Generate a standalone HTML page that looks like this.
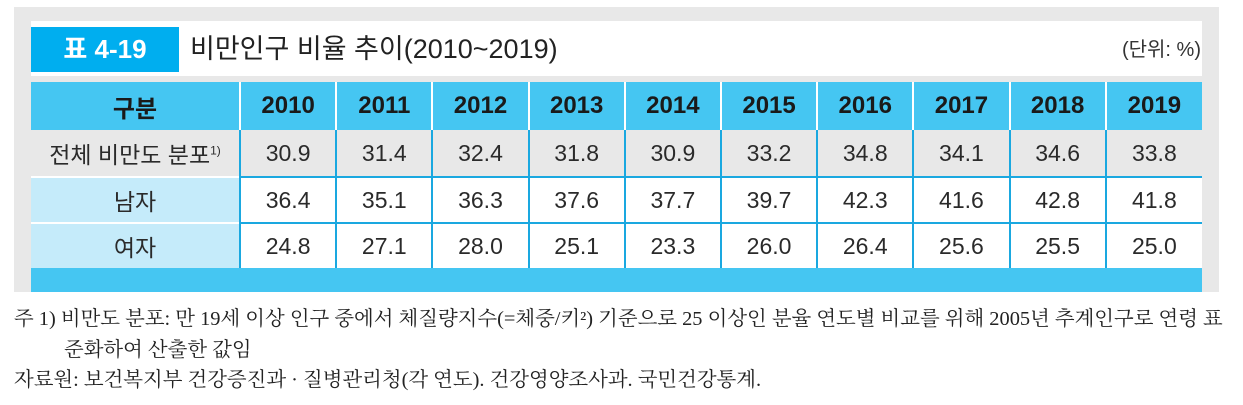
<!DOCTYPE html>
<html><head><meta charset="utf-8"><style>
body{margin:0;width:1243px;height:405px;background:#fff;position:relative;overflow:hidden;font-family:"Liberation Sans","Noto Sans CJK KR",sans-serif}
#outer{position:absolute;left:14px;top:7px;width:1205px;height:285px;background:#e8e8e8}
#inner{position:absolute;left:31px;top:21px;width:1171px;height:55px;background:#fff}
#tbox{position:absolute;left:31px;top:27px;width:148px;height:45px;background:#00aeef;color:#fff;font-size:26px;line-height:45px;text-align:center;font-weight:bold}
#title{position:absolute;left:190px;top:27px;height:45px;line-height:45px;font-size:27px;color:#222}
#unit{position:absolute;right:42px;top:27px;height:45px;line-height:47px;font-size:20px;color:#333}
table{position:absolute;left:31px;top:82px;border-collapse:collapse;table-layout:fixed;width:1171px}
td{text-align:center;padding:0;color:#2a2a2a;font-size:23px}
tr.h td{background:#45c6f2;height:48px;font-weight:bold;font-size:24px;color:#1a1a1a;border-left:2px solid #fff}
tr.r1 td{background:#e8e8e8;height:46px;border-left:2px solid #1aa8e0}
tr.r td{background:#fff;height:44px;border-left:2px solid #1aa8e0;border-top:2px solid #1aa8e0}
tr.r td.f{background:#c5ebfa;border-top:2px solid #fff}
td.f{border-left:none!important}
tr.foot td{background:#45c6f2;height:24px;border:none}
.note{position:absolute;left:14px;font-family:"Liberation Serif","Noto Serif CJK KR","Noto Serif CJK SC",serif;font-size:20px;color:#222;white-space:nowrap;transform-origin:0 0}
</style></head><body>
<div id="outer"></div>
<div id="inner"></div>
<div id="tbox">표 4-19</div>
<div id="title">비만인구 비율 추이(2010~2019)</div>
<div id="unit">(단위: %)</div>
<table>
<colgroup><col style="width:209px"><col span="10" style="width:96.2px"></colgroup>
<tr class="h"><td class="f">구분</td><td>2010</td><td>2011</td><td>2012</td><td>2013</td><td>2014</td><td>2015</td><td>2016</td><td>2017</td><td>2018</td><td>2019</td></tr>
<tr class="r1"><td class="f">전체 비만도 분포<sup style="font-size:12px">1)</sup></td><td>30.9</td><td>31.4</td><td>32.4</td><td>31.8</td><td>30.9</td><td>33.2</td><td>34.8</td><td>34.1</td><td>34.6</td><td>33.8</td></tr>
<tr class="r"><td class="f">남자</td><td>36.4</td><td>35.1</td><td>36.3</td><td>37.6</td><td>37.7</td><td>39.7</td><td>42.3</td><td>41.6</td><td>42.8</td><td>41.8</td></tr>
<tr class="r"><td class="f">여자</td><td>24.8</td><td>27.1</td><td>28.0</td><td>25.1</td><td>23.3</td><td>26.0</td><td>26.4</td><td>25.6</td><td>25.5</td><td>25.0</td></tr>
<tr class="foot"><td colspan="11"></td></tr>
</table>
<div class="note" style="top:302px;transform:scaleX(1.02)">주 1) 비만도 분포: 만 19세 이상 인구 중에서 체질량지수(=체중/키²) 기준으로 25 이상인 분율 연도별 비교를 위해 2005년 추계인구로 연령 표</div>
<div class="note" style="top:333px;left:64px;transform:scaleX(1.02)">준화하여 산출한 값임</div>
<div class="note" style="top:363px;transform:scaleX(1.02)">자료원: 보건복지부 건강증진과 · 질병관리청(각 연도). 건강영양조사과. 국민건강통계.</div>
</body></html>
